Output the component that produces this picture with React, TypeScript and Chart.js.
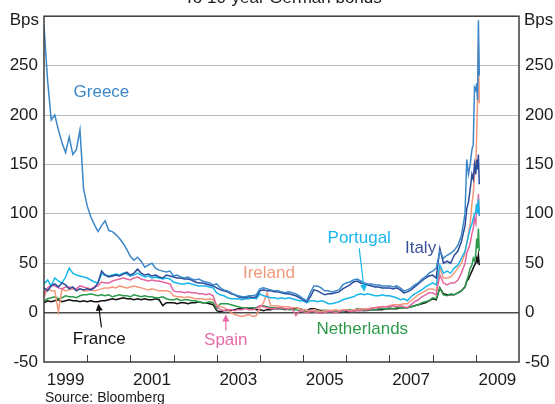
import React, { useEffect, useRef } from 'react';
import { Chart, registerables } from 'chart.js';

Chart.register(...registerables);

// ---- categories (decimal years): monthly Jan-1999 .. Oct-2008, then finer tail ----
const monthStart = 1999;
const monthCount = 118;
const monthDates = Array.from({ length: monthCount }, (_, i) => monthStart + i / 12);
const tailDates = [2008.79, 2008.83, 2008.87, 2008.91, 2008.94, 2008.97, 2009.0, 2009.02, 2009.04, 2009.06, 2009.08];
const dates = [...monthDates, ...tailDates];

// ---- series (bps spread to 10-year German bonds) ----
const greece = [
  290, 235, 195, 200, 185, 172, 162, 178, 160, 165, 185, 125,
  108, 97, 89, 82, 88, 93, 83, 82, 79, 75, 70, 64,
  57, 53, 56, 52, 46, 48, 50, 45, 43, 42, 41, 42,
  37, 38, 36, 35, 36, 34, 33, 34, 32, 31, 30, 28,
  29, 25, 23, 22, 20, 18, 17, 16, 16, 17, 17, 18,
  24, 25, 24, 23, 22, 22, 21, 20, 21, 20, 19, 17,
  14, 12, 20, 27, 27, 25, 22, 22, 21, 22, 23, 28,
  30, 31, 33, 34, 32, 30, 29, 29, 28, 28, 27, 27,
  27, 26, 27, 25, 22, 23, 25, 28, 30, 34, 36, 40,
  42, 45, 62, 55, 58, 60, 63, 68, 78, 100,
  155, 140, 150, 165, 170, 228, 225, 232, 215, 296, 240,
];
const italy = [
  25, 22, 27, 29, 26, 30, 28, 24, 26, 22, 24, 23,
  24, 23, 25, 30, 42, 38, 36, 37, 38, 37, 39, 41,
  38, 40, 44, 40, 38, 39, 37, 38, 36, 35, 38, 37,
  36, 35, 35, 34, 34, 33, 31, 30, 30, 29, 28, 27,
  25, 23, 22, 21, 19, 18, 16, 15, 15, 16, 15, 16,
  22, 23, 22, 22, 21, 21, 20, 19, 19, 18, 17, 15,
  13, 11, 16, 23, 22, 20, 18, 19, 19, 20, 21, 24,
  26, 28, 31, 32, 30, 29, 28, 27, 26, 26, 25, 25,
  25, 24, 25, 23, 20, 21, 23, 26, 29, 32, 35, 37,
  38, 35, 65, 50, 52, 50, 58, 62, 72, 88,
  105, 112, 125, 140, 135, 150, 140, 155, 145, 160, 130,
];
const portugal = [
  29, 33, 27, 35, 32, 30, 36, 45, 40, 38, 37, 36,
  35, 33, 31, 30, 39, 38, 37, 38, 39, 38, 40, 39,
  37, 38, 40, 38, 36, 37, 35, 36, 35, 34, 35, 34,
  31, 30, 29, 29, 30, 29, 28, 27, 27, 27, 26, 25,
  20, 18, 17, 15, 14, 14, 14, 13, 14, 14, 15, 14,
  19, 17, 16, 15, 15, 14, 15, 14, 15, 14, 13, 12,
  12, 10, 12, 12, 11, 12, 11, 9, 9, 10, 11, 13,
  14, 15, 16, 18, 19, 18, 19, 18, 17, 17, 18, 17,
  17, 16, 15, 13, 14, 12, 16, 19, 21, 23, 26, 28,
  30, 28, 48, 40, 42, 40, 45, 48, 55, 62,
  70, 78, 85, 90, 95, 100, 102, 110, 100, 115, 98,
];
const spain = [
  20, 25, 28, 27, 25, 24, 26, 26, 25, 24, 27, 26,
  25, 24, 26, 27, 31, 30, 30, 32, 33, 34, 35, 34,
  33, 35, 36, 34, 33, 32, 33, 32, 32, 31, 30, 29,
  22, 21, 21, 20, 21, 20, 20, 19, 19, 18, 19, 17,
  6, 3, 2, 3, 3, 2, 3, 3, 4, 3, 3, 4,
  7, 6, 5, 4, 4, 5, 5, 4, 4, 4, -3, 2,
  1, 0, 1, 1, 0, -1, 0, 1, 1, 0, 1, 2,
  2, 1, 1, 2, 2, 3, 3, 4, 5, 5, 6, 6,
  6, 7, 6, 7, 6, 5, 8, 11, 13, 16, 18, 20,
  20, 18, 38, 30, 28, 30, 30, 33, 40, 50,
  60, 65, 70, 80, 85, 95, 90, 110, 100, 120, 98,
];
const ireland = [
  15, 25, 22, 22, 1, 24, 22, 23, 24, 23, 24, 22,
  22, 23, 22, 23, 24, 25, 25, 26, 25, 27, 26, 25,
  26, 27, 26, 25, 24, 23, 24, 23, 22, 22, 22, 21,
  17, 16, 16, 15, 16, 15, 14, 14, 14, 13, 14, 13,
  8, 6, 5, 3, 0, -2, -3, -4, -3, -2, -4, -3,
  5, 10, 20, 7, 7, 7, 6, 6, 6, 5, 5, 4,
  3, 2, 2, 3, 2, 1, 2, 2, 2, 3, 2, 3,
  3, 2, 3, 3, 4, 4, 4, 5, 5, 6, 6, 6,
  7, 8, 8, 8, 9, 9, 12, 15, 18, 20, 22, 24,
  24, 22, 45, 35, 35, 36, 40, 45, 50, 60,
  70, 80, 90, 110, 120, 140, 150, 180, 215, 272, 212,
];
const netherlands = [
  12, 14, 15, 16, 14, 15, 17, 16, 16, 15, 17, 18,
  18, 19, 18, 17, 18, 17, 18, 16, 17, 18, 17, 17,
  16, 18, 17, 16, 17, 16, 16, 15, 15, 16, 14, 13,
  13, 14, 12, 13, 13, 12, 12, 11, 10, 10, 11, 10,
  4, 9, 9, 9, 8, 7, 6, 5, 5, 5, 5, 5,
  7, 7, 6, 5, 5, 5, 4, 4, 3, 3, 3, 2,
  1, 1, 2, 1, 2, 1, 2, 1, 2, 1, 2, 1,
  2, 3, 2, 4, 3, 2, 3, 3, 3, 4, 4, 4,
  5, 4, 5, 5, 5, 5, 6, 7, 8, 10, 11, 12,
  15, 14, 25, 18, 17, 19, 18, 20, 22, 26,
  32, 38, 45, 48, 55, 52, 60, 75, 65, 85, 62,
];
const france = [
  10, 12, 11, 12, 13, 11, 12, 13, 12, 12, 11, 12,
  11, 12, 11, 11, 12, 12, 13, 14, 13, 14, 15, 14,
  14, 13, 14, 13, 14, 13, 13, 14, 13, 7, 10, 10,
  10, 9, 10, 10, 9, 10, 10, 11, 10, 10, 9, 8,
  2, 1, 2, 2, 2, 3, 4, 4, 5, 4, 4, 3,
  3, 2, 3, 3, 4, 4, 4, 3, 4, 4, 5, 4,
  3, 2, 4, 4, 3, 2, 2, 2, 1, 1, 1, 1,
  1, 1, 2, 2, 2, 2, 2, 3, 3, 3, 3, 4,
  4, 4, 4, 5, 5, 5, 6, 7, 8, 9, 10, 12,
  14, 13, 25, 19, 18, 18, 18, 20, 22, 26,
  32, 34, 38, 42, 45, 48, 50, 55, 52, 58, 48,
];

// ---- axis labels ----
const yearLabels = ['1999', '2001', '2003', '2005', '2007', '2009'];
const yearTickMarks = [2000, 2001, 2002, 2003, 2004, 2005, 2006, 2007, 2008, 2009];
const titleText = 'To 10-year German bonds';
const unitText = 'Bps';
const sourceText = 'Source: Bloomberg';

// ---- styles ----
const FONT = '"Liberation Sans", Arial, Helvetica, sans-serif';
const C = {
  greece: '#3b87c8',
  italy: '#2a4b9b',
  portugal: '#19b6ea',
  ireland: '#f4977b',
  spain: '#e4669f',
  netherlands: '#2c9a4a',
  france: '#111111',
};

const seriesDefs = [
  { label: 'Greece', values: greece, color: C.greece, order: 1 },
  { label: 'Italy', values: italy, color: C.italy, order: 2 },
  { label: 'Portugal', values: portugal, color: C.portugal, order: 3 },
  { label: 'Spain', values: spain, color: C.spain, order: 4 },
  { label: 'Ireland', values: ireland, color: C.ireland, order: 5 },
  { label: 'Netherlands', values: netherlands, color: C.netherlands, order: 6 },
  { label: 'France', values: france, color: C.france, order: 7 },
];

// annotations in data coordinates [year, bps]
const annotations = [
  { text: 'Greece', x: 2000.33, y: 223, color: '#3b87c8' },
  { text: 'Ireland', x: 2004.21, y: 40, color: '#f2987a' },
  { text: 'Portugal', x: 2006.3, y: 75, color: '#1ab7eb' },
  { text: 'Italy', x: 2007.72, y: 65, color: '#3c4f9c' },
  { text: 'Netherlands', x: 2006.37, y: -17, color: '#2e9b4b' },
  { text: 'France', x: 2000.28, y: -27, color: '#111111' },
  { text: 'Spain', x: 2003.21, y: -28, color: '#e86aa8' },
];
const arrows = [
  { from: [2000.33, -15], to: [2000.26, 9], color: '#111111' },
  { from: [2003.21, -18], to: [2003.21, -2], color: '#e86aa8' },
  { from: [2006.3, 65], to: [2006.42, 21], color: '#1ab7eb' },
];

const decorPlugin = {
  id: 'decor',
  afterDraw(chart: any) {
    const { ctx, chartArea: a, scales } = chart;
    const xs = scales.x;
    const ys = scales.y;
    ctx.save();

    // year tick marks (inside, upward)
    ctx.strokeStyle = '#3a3a3a';
    ctx.lineWidth = 1;
    for (const yr of yearTickMarks) {
      const px = Math.round(xs.getPixelForValue(yr)) + 0.5;
      ctx.beginPath();
      ctx.moveTo(px, a.bottom);
      ctx.lineTo(px, a.bottom - 7);
      ctx.stroke();
    }

    // frame
    ctx.strokeStyle = '#3c3c3c';
    ctx.lineWidth = 1.5;
    ctx.strokeRect(a.left, a.top, a.right - a.left, a.bottom - a.top);

    // annotations
    ctx.font = `17px ${FONT}`;
    ctx.textAlign = 'center';
    ctx.textBaseline = 'middle';
    for (const an of annotations) {
      ctx.fillStyle = an.color;
      ctx.fillText(an.text, xs.getPixelForValue(an.x), ys.getPixelForValue(an.y));
    }

    // arrows
    for (const ar of arrows) {
      const x1 = xs.getPixelForValue(ar.from[0]);
      const y1 = ys.getPixelForValue(ar.from[1]);
      const x2 = xs.getPixelForValue(ar.to[0]);
      const y2 = ys.getPixelForValue(ar.to[1]);
      const ang = Math.atan2(y2 - y1, x2 - x1);
      const hl = 7;
      const hw = 3.5;
      ctx.strokeStyle = ar.color;
      ctx.fillStyle = ar.color;
      ctx.lineWidth = 1.2;
      ctx.beginPath();
      ctx.moveTo(x1, y1);
      ctx.lineTo(x2 - Math.cos(ang) * hl * 0.8, y2 - Math.sin(ang) * hl * 0.8);
      ctx.stroke();
      ctx.beginPath();
      ctx.moveTo(x2, y2);
      ctx.lineTo(x2 - Math.cos(ang) * hl - Math.sin(ang) * hw, y2 - Math.sin(ang) * hl + Math.cos(ang) * hw);
      ctx.lineTo(x2 - Math.cos(ang) * hl + Math.sin(ang) * hw, y2 - Math.sin(ang) * hl - Math.cos(ang) * hw);
      ctx.closePath();
      ctx.fill();
    }

    // unit labels
    ctx.fillStyle = '#1a1a1a';
    ctx.font = `17px ${FONT}`;
    ctx.textBaseline = 'alphabetic';
    ctx.textAlign = 'right';
    ctx.fillText(unitText, a.left - 5, 24.5);
    ctx.textAlign = 'left';
    ctx.fillText(unitText, a.right + 5, 24.5);

    // title (cropped at the top of the picture)
    ctx.textAlign = 'center';
    ctx.font = `17px ${FONT}`;
    ctx.fillText(titleText, 283, 3);

    // source
    ctx.textAlign = 'left';
    ctx.font = `14px ${FONT}`;
    ctx.fillText(sourceText, 45, 402);

    ctx.restore();
  },
};

const tickLabel = (v: any) => (Number(v) === 300 ? '' : String(v));

export default function App() {
  const ref = useRef<HTMLCanvasElement | null>(null);

  useEffect(() => {
    if (!ref.current) return;
    const chart = new Chart(ref.current, {
      type: 'line',
      data: {
        datasets: seriesDefs.map((s) => ({
          label: s.label,
          data: dates.map((d, i) => ({ x: d, y: s.values[i] })),
          borderColor: s.color,
          backgroundColor: s.color,
          borderWidth: 1.5,
          pointRadius: 0,
          tension: 0,
          fill: false,
          order: s.order,
        })),
      },
      options: {
        animation: false,
        responsive: false,
        devicePixelRatio: 1,
        layout: { padding: { top: 12, left: 0, right: 0, bottom: 0 } },
        plugins: {
          legend: { display: false },
          tooltip: { enabled: false },
          title: { display: false },
        },
        scales: {
          x: {
            type: 'linear',
            position: 'bottom',
            min: 1999,
            max: 2010,
            afterBuildTicks: (s: any) => {
              s.ticks = yearLabels.map((l) => ({ value: Number(l) + 0.5 }));
            },
            afterFit: (s: any) => {
              s.height = 42;
            },
            ticks: {
              autoSkip: false,
              maxRotation: 0,
              padding: 8,
              color: '#1a1a1a',
              font: { family: FONT, size: 17 },
              callback: (v: any) => String(Math.floor(Number(v))),
            },
            grid: { display: false, drawTicks: false },
            border: { display: false },
          },
          y: {
            type: 'linear',
            position: 'left',
            min: -50,
            max: 300,
            afterFit: (s: any) => {
              s.width = 44;
            },
            ticks: {
              stepSize: 50,
              padding: 6,
              color: '#1a1a1a',
              font: { family: FONT, size: 17 },
              callback: tickLabel,
            },
            grid: {
              drawTicks: false,
              color: (c: any) => {
                const v = c.tick ? c.tick.value : null;
                if (v === 0) return '#4a4a4a';
                if (v === -50 || v === 300) return 'rgba(0,0,0,0)';
                return '#b5bac2';
              },
              lineWidth: (c: any) => (c.tick && c.tick.value === 0 ? 1.5 : 1),
            },
            border: { display: false },
          },
          y2: {
            type: 'linear',
            position: 'right',
            min: -50,
            max: 300,
            afterFit: (s: any) => {
              s.width = 36;
            },
            ticks: {
              stepSize: 50,
              padding: 6,
              color: '#1a1a1a',
              font: { family: FONT, size: 17 },
              callback: tickLabel,
            },
            grid: { display: false, drawTicks: false },
            border: { display: false },
          },
        },
      },
      plugins: [decorPlugin],
    });
    return () => chart.destroy();
  }, []);

  return (
    <div style={{ position: 'absolute', left: 0, top: 0, width: 555, height: 404, background: '#ffffff' }}>
      <canvas ref={ref} width={555} height={404} style={{ display: 'block' }} />
    </div>
  );
}
